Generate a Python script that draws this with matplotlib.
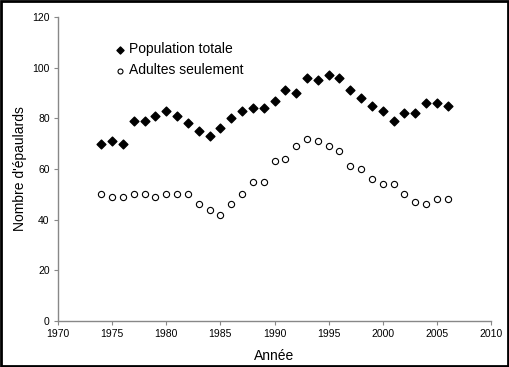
import matplotlib.pyplot as plt
from matplotlib.patches import Rectangle

plt.rcParams['font.family'] = ['Liberation Sans', 'DejaVu Sans']

annees = list(range(1974, 2007))
population_totale = [70, 71, 70, 79, 79, 81, 83, 81, 78, 75, 73, 76, 80, 83, 84, 84,
                     87, 91, 90, 96, 95, 97, 96, 91, 88, 85, 83, 79, 82, 82, 86, 86, 85]
adultes_seulement = [50, 49, 49, 50, 50, 49, 50, 50, 50, 46, 44, 42, 46, 50, 55, 55,
                     63, 64, 69, 72, 71, 69, 67, 61, 60, 56, 54, 54, 50, 47, 46, 48, 48]

fig = plt.figure(figsize=(5.1, 3.67), dpi=100)
ax = fig.add_axes([58 / 510, 1 - 321 / 367, (491 - 58) / 510, (321 - 17) / 367])

ax.scatter(annees, population_totale, marker='D', s=20, color='black',
           label='Population totale', zorder=3)
ax.scatter(annees, adultes_seulement, marker='o', s=20, facecolor='white',
           edgecolor='black', linewidth=0.8, label='Adultes seulement', zorder=3)

ax.set_xlim(1970, 2010)
ax.set_ylim(0, 120)
ax.set_xticks(range(1970, 2011, 5))
ax.set_yticks(range(0, 121, 20))

for s in ['top', 'right']:
    ax.spines[s].set_visible(False)
for s in ['left', 'bottom']:
    ax.spines[s].set_color('#888888')
    ax.spines[s].set_linewidth(1)
ax.tick_params(direction='out', length=3, width=0.8, color='#888888',
               labelsize=7.5, pad=3)

ax.set_xlabel('Année', fontsize=10, labelpad=7)
ax.set_ylabel("Nombre d'épaulards", fontsize=10, labelpad=4)

ax.legend(loc='upper left', bbox_to_anchor=(0.118, 0.935), frameon=False,
          fontsize=10, handletextpad=0.2, labelspacing=0.5, borderaxespad=0,
          handlelength=0.8, scatterpoints=1, markerscale=0.8)

fig.patches.append(Rectangle((0.002, 0.003), 0.995, 0.994, transform=fig.transFigure,
                             fill=False, edgecolor='black', linewidth=2))

fig.savefig('out.png', dpi=100)
